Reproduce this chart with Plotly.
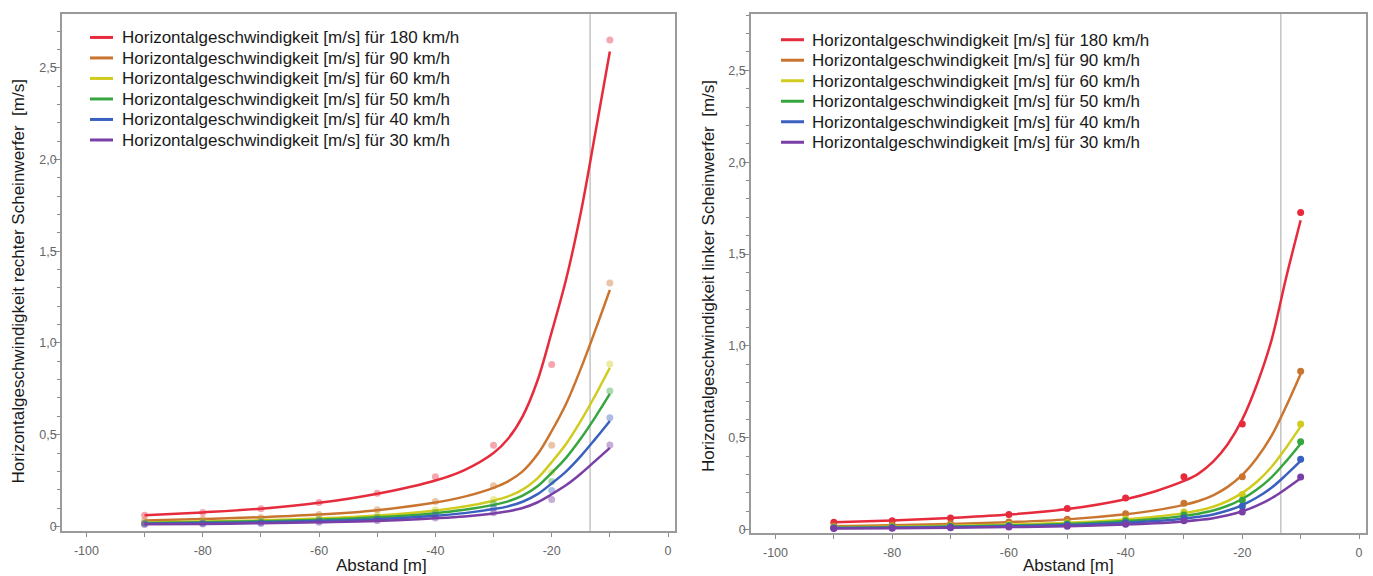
import plotly.graph_objects as go

# Messabstände der Einzelwerte [m]
abstand_punkte = [-90, -80, -70, -60, -50, -40, -30, -20, -10]
# Stützstellen der Ausgleichskurven [m]
abstand_kurve = [-90, -80, -70, -60, -50, -40, -35, -30, -27.5, -25, -22.5, -20, -17.5, -15, -12.5, -10]

geschwindigkeiten = ["180", "90", "60", "50", "40", "30"]
farben = ["#e62b3d", "#c97530", "#cfcc1f", "#38a63e", "#3a60c0", "#7a3fa6"]

# Rechter Scheinwerfer: Messpunkte [m/s]
rechts_punkte_180 = [0.061, 0.076, 0.096, 0.130, 0.181, 0.271, 0.442, 0.883, 2.653]
rechts_punkte_90 = [0.031, 0.038, 0.048, 0.065, 0.090, 0.135, 0.221, 0.442, 1.327]
rechts_punkte_60 = [0.020, 0.025, 0.032, 0.043, 0.060, 0.090, 0.147, 0.295, 0.885]
rechts_punkte_50 = [0.017, 0.021, 0.027, 0.036, 0.050, 0.075, 0.123, 0.245, 0.738]
rechts_punkte_40 = [0.014, 0.017, 0.021, 0.029, 0.040, 0.060, 0.098, 0.196, 0.592]
rechts_punkte_30 = [0.010, 0.013, 0.016, 0.022, 0.030, 0.045, 0.074, 0.147, 0.443]

# Rechter Scheinwerfer: Ausgleichskurven [m/s]
rechts_kurve_180 = [0.060, 0.076, 0.096, 0.128, 0.178, 0.250, 0.307, 0.400, 0.478, 0.600, 0.790, 1.060, 1.350, 1.710, 2.145, 2.590]
rechts_kurve_90 = [0.032, 0.040, 0.050, 0.064, 0.088, 0.130, 0.162, 0.210, 0.245, 0.300, 0.390, 0.520, 0.670, 0.860, 1.070, 1.290]
rechts_kurve_60 = [0.021, 0.027, 0.033, 0.043, 0.059, 0.087, 0.108, 0.140, 0.163, 0.200, 0.260, 0.350, 0.450, 0.575, 0.715, 0.865]
rechts_kurve_50 = [0.018, 0.022, 0.028, 0.036, 0.049, 0.072, 0.090, 0.117, 0.136, 0.167, 0.217, 0.292, 0.375, 0.479, 0.596, 0.722]
rechts_kurve_40 = [0.014, 0.018, 0.022, 0.029, 0.039, 0.058, 0.072, 0.094, 0.109, 0.134, 0.174, 0.234, 0.300, 0.383, 0.477, 0.575]
rechts_kurve_30 = [0.011, 0.013, 0.017, 0.022, 0.029, 0.044, 0.054, 0.070, 0.082, 0.100, 0.130, 0.175, 0.225, 0.287, 0.357, 0.428]

# Linker Scheinwerfer: Messpunkte [m/s]
links_punkte_180 = [0.040, 0.049, 0.063, 0.083, 0.115, 0.173, 0.288, 0.575, 1.726]
links_punkte_90 = [0.020, 0.025, 0.032, 0.042, 0.057, 0.086, 0.144, 0.288, 0.862]
links_punkte_60 = [0.013, 0.016, 0.021, 0.028, 0.038, 0.058, 0.096, 0.192, 0.575]
links_punkte_50 = [0.011, 0.014, 0.018, 0.023, 0.032, 0.048, 0.080, 0.160, 0.479]
links_punkte_40 = [0.009, 0.011, 0.014, 0.018, 0.026, 0.038, 0.064, 0.128, 0.383]
links_punkte_30 = [0.007, 0.008, 0.010, 0.014, 0.019, 0.029, 0.048, 0.096, 0.287]

# Linker Scheinwerfer: Ausgleichskurven [m/s]
links_kurve_180 = [0.040, 0.050, 0.064, 0.082, 0.112, 0.166, 0.208, 0.265, 0.305, 0.370, 0.465, 0.600, 0.790, 1.030, 1.370, 1.684]
links_kurve_90 = [0.019, 0.024, 0.031, 0.041, 0.056, 0.084, 0.105, 0.135, 0.156, 0.187, 0.233, 0.298, 0.390, 0.510, 0.670, 0.847]
links_kurve_60 = [0.013, 0.016, 0.021, 0.027, 0.037, 0.056, 0.070, 0.090, 0.104, 0.125, 0.156, 0.200, 0.261, 0.341, 0.446, 0.562]
links_kurve_50 = [0.011, 0.013, 0.017, 0.023, 0.031, 0.047, 0.058, 0.075, 0.087, 0.104, 0.130, 0.167, 0.218, 0.285, 0.372, 0.468]
links_kurve_40 = [0.009, 0.011, 0.014, 0.018, 0.025, 0.038, 0.047, 0.060, 0.070, 0.083, 0.104, 0.134, 0.175, 0.228, 0.298, 0.374]
links_kurve_30 = [0.007, 0.008, 0.010, 0.014, 0.019, 0.028, 0.035, 0.045, 0.052, 0.062, 0.078, 0.100, 0.131, 0.171, 0.223, 0.280]

rechts_punkte = [rechts_punkte_180, rechts_punkte_90, rechts_punkte_60, rechts_punkte_50, rechts_punkte_40, rechts_punkte_30]
rechts_kurven = [rechts_kurve_180, rechts_kurve_90, rechts_kurve_60, rechts_kurve_50, rechts_kurve_40, rechts_kurve_30]
links_punkte = [links_punkte_180, links_punkte_90, links_punkte_60, links_punkte_50, links_punkte_40, links_punkte_30]
links_kurven = [links_kurve_180, links_kurve_90, links_kurve_60, links_kurve_50, links_kurve_40, links_kurve_30]

x_ticks = [-100, -80, -60, -40, -20, 0]
x_ticktext = ["-100", "-80", "-60", "-40", "-20", "0"]
y_ticks = [0, 0.5, 1.0, 1.5, 2.0, 2.5]
y_ticktext = ["0", "0,5", "1,0", "1,5", "2,0", "2,5"]

markierung_x = -13.4

W, H = 1373, 576
FONT = "Liberation Sans, Arial, sans-serif"
RAHMEN = "#9a9a9a"
TICKFARBE = "#8a8a8a"
TEXTGRAU = "#666666"
SCHWARZ = "#1a1a1a"


def px_x(p):
    return p / W


def px_y(p):
    return 1 - p / H


fig = go.Figure()

for i, v in enumerate(geschwindigkeiten):
    # rechter Scheinwerfer (linkes Diagramm): blasse Messpunkte
    fig.add_trace(go.Scatter(
        x=abstand_punkte, y=rechts_punkte[i], mode="markers", xaxis="x", yaxis="y",
        marker=dict(color=farben[i], size=7, opacity=0.42), showlegend=False, hoverinfo="skip"))
    fig.add_trace(go.Scatter(
        x=abstand_kurve, y=rechts_kurven[i], mode="lines", xaxis="x", yaxis="y",
        line=dict(color=farben[i], width=2.5, shape="spline", smoothing=1.0),
        name=f"{v} km/h", showlegend=False))
    # linker Scheinwerfer (rechtes Diagramm)
    fig.add_trace(go.Scatter(
        x=abstand_punkte, y=links_punkte[i], mode="markers", xaxis="x2", yaxis="y2",
        marker=dict(color=farben[i], size=7), showlegend=False, hoverinfo="skip"))
    fig.add_trace(go.Scatter(
        x=abstand_kurve, y=links_kurven[i], mode="lines", xaxis="x2", yaxis="y2",
        line=dict(color=farben[i], width=2.5, shape="spline", smoothing=1.0),
        name=f"{v} km/h", showlegend=False))


def x_achse(domain, anchor):
    return dict(
        domain=domain, anchor=anchor, range=[-104.2, 1.2],
        tickvals=x_ticks, ticktext=x_ticktext, ticks="outside", ticklen=4,
        tickcolor=TICKFARBE, tickwidth=1, ticklabelstandoff=3,
        minor=dict(dtick=10, tick0=0, ticks="outside", ticklen=4, tickcolor=TICKFARBE, tickwidth=1),
        tickfont=dict(family=FONT, size=12.5, color=TEXTGRAU),
        showgrid=False, zeroline=False, showline=True, linecolor=RAHMEN, linewidth=1.6, mirror=True,
    )


def y_achse(domain, anchor, rng):
    return dict(
        domain=domain, anchor=anchor, range=rng,
        tickvals=y_ticks, ticktext=y_ticktext, ticks="outside", ticklen=6,
        tickcolor=TICKFARBE, tickwidth=1, ticklabelstandoff=-5,
        minor=dict(dtick=0.1, tick0=0, ticks="outside", ticklen=3, tickcolor=TICKFARBE, tickwidth=1),
        tickfont=dict(family=FONT, size=12.5, color=TEXTGRAU),
        showgrid=False, zeroline=False, showline=True, linecolor=RAHMEN, linewidth=1.6, mirror=True,
    )


shapes = [
    dict(type="line", xref="x", yref="y domain", x0=markierung_x, x1=markierung_x, y0=0, y1=1,
         line=dict(color="#c4c4c4", width=1.5), layer="below"),
    dict(type="line", xref="x2", yref="y2 domain", x0=markierung_x, x1=markierung_x, y0=0, y1=1,
         line=dict(color="#c4c4c4", width=1.5), layer="below"),
]

annotations = [
    dict(text="Horizontalgeschwindigkeit rechter Scheinwerfer  [m/s]", textangle=-90,
         xref="paper", yref="paper", x=px_x(18.5), y=px_y(284), xanchor="center", yanchor="middle",
         showarrow=False, font=dict(family=FONT, size=17, color=SCHWARZ)),
    dict(text="Horizontalgeschwindigkeit linker Scheinwerfer  [m/s]", textangle=-90,
         xref="paper", yref="paper", x=px_x(708.5), y=px_y(278.5), xanchor="center", yanchor="middle",
         showarrow=False, font=dict(family=FONT, size=17, color=SCHWARZ)),
    dict(text="Abstand [m]", xref="paper", yref="paper", x=px_x(381.5), y=px_y(569),
         xanchor="center", yanchor="middle", showarrow=False,
         font=dict(family=FONT, size=17, color=SCHWARZ)),
    dict(text="Abstand [m]", xref="paper", yref="paper", x=px_x(1068), y=px_y(569),
         xanchor="center", yanchor="middle", showarrow=False,
         font=dict(family=FONT, size=17, color=SCHWARZ)),
]

# Legenden: Linienmuster + Beschriftung, je Diagramm eine Spalte
legenden = [
    dict(linie_x0=90, linie_x1=113, text_x=119.5, zeile0=37.7),
    dict(linie_x0=781, linie_x1=804, text_x=810, zeile0=40.0),
]
ZEILENABSTAND = 20.65
for leg in legenden:
    for i, v in enumerate(geschwindigkeiten):
        yz = leg["zeile0"] + i * ZEILENABSTAND
        shapes.append(dict(type="line", xref="paper", yref="paper",
                           x0=px_x(leg["linie_x0"]), x1=px_x(leg["linie_x1"]), y0=px_y(yz), y1=px_y(yz),
                           line=dict(color=farben[i], width=3)))
        annotations.append(dict(text=f"Horizontalgeschwindigkeit [m/s] für {v} km/h",
                                xref="paper", yref="paper", x=px_x(leg["text_x"]), y=px_y(yz + 0.5),
                                xanchor="left", yanchor="middle", showarrow=False,
                                font=dict(family=FONT, size=17, color=SCHWARZ)))

fig.update_layout(
    width=W, height=H, margin=dict(l=0, r=0, t=0, b=0),
    paper_bgcolor="white", plot_bgcolor="white",
    font=dict(family=FONT), showlegend=False,
    xaxis=x_achse([px_x(62), px_x(675)], "y"),
    yaxis=y_achse([px_y(535), px_y(14)], "x", [-0.027, 2.795]),
    xaxis2=x_achse([px_x(751), px_x(1366)], "y2"),
    yaxis2=y_achse([px_y(536.7), px_y(14)], "x2", [-0.018, 2.807]),
    shapes=shapes,
    annotations=annotations,
)

fig.write_html("out.html")
